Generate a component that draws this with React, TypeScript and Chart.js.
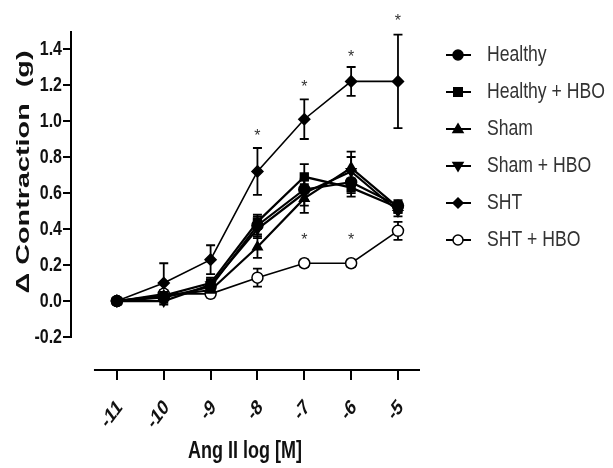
import React, { useEffect, useRef } from "react";
import { Chart, registerables } from "chart.js";

Chart.register(...registerables);

const xValues = [-11, -10, -9, -8, -7, -6, -5];
const xTickLabels = ["-11", "-10", "-9", "-8", "-7", "-6", "-5"];
const yTickValues = [-0.2, 0, 0.2, 0.4, 0.6, 0.8, 1.0, 1.2, 1.4];
const yTickLabels = ["-0.2", "0.0", "0.2", "0.4", "0.6", "0.8", "1.0", "1.2", "1.4"];

const seriesNames = ["Healthy", "Healthy + HBO", "Sham", "Sham + HBO", "SHT", "SHT + HBO"];

const healthy = [0, 0.02, 0.08, 0.42, 0.62, 0.66, 0.53];
const healthyHbo = [0, 0.03, 0.1, 0.44, 0.69, 0.63, 0.52];
const sham = [0, 0.03, 0.06, 0.3, 0.57, 0.74, 0.52];
const shamHbo = [0, 0.0, 0.09, 0.4, 0.6, 0.72, 0.5];
const sht = [0, 0.1, 0.23, 0.72, 1.01, 1.22, 1.22];
const shtHbo = [0, 0.04, 0.04, 0.13, 0.21, 0.21, 0.39];

const healthyErr = [0, 0.02, 0.03, 0.05, 0.06, 0.06, 0.03];
const healthyHboErr = [0, 0.02, 0.03, 0.04, 0.07, 0.05, 0.03];
const shamErr = [0, 0.02, 0.03, 0.06, 0.08, 0.09, 0.03];
const shamHboErr = [0, 0.02, 0.03, 0.05, 0.07, 0.08, 0.03];
const shtErr = [0, 0.11, 0.08, 0.13, 0.11, 0.08, 0.26];
const shtHboErr = [0, 0.02, 0.02, 0.05, 0.02, 0.02, 0.05];

// significance marks (value position of the "*")
const shtStars = [null, null, null, 0.93, 1.2, 1.37, 1.57];
const shtHboStars = [null, null, null, null, 0.35, 0.35, null];

const FONT = "'Liberation Sans', Arial, sans-serif";

type Marker = { style: string; rotation: number; fill: string };
const markers: Marker[] = [
  { style: "circle", rotation: 0, fill: "#000" },
  { style: "rect", rotation: 0, fill: "#000" },
  { style: "triangle", rotation: 0, fill: "#000" },
  { style: "triangle", rotation: 180, fill: "#000" },
  { style: "rectRot", rotation: 0, fill: "#000" },
  { style: "circle", rotation: 0, fill: "#fff" },
];

const values = [healthy, healthyHbo, sham, shamHbo, sht, shtHbo];
const errors = [healthyErr, healthyHboErr, shamErr, shamHboErr, shtErr, shtHboErr];
const stars = [null, null, null, null, shtStars, shtHboStars];

function drawMarker(ctx: CanvasRenderingContext2D, m: Marker, x: number, y: number, r: number) {
  ctx.save();
  ctx.fillStyle = m.fill;
  ctx.strokeStyle = "#000";
  ctx.lineWidth = 1.5;
  ctx.beginPath();
  if (m.style === "circle") {
    ctx.arc(x, y, r, 0, Math.PI * 2);
  } else if (m.style === "rect") {
    ctx.rect(x - r * 0.85, y - r * 0.85, r * 1.7, r * 1.7);
  } else if (m.style === "triangle") {
    const s = m.rotation === 180 ? -1 : 1;
    ctx.moveTo(x, y - s * r);
    ctx.lineTo(x + r, y + s * r * 0.7);
    ctx.lineTo(x - r, y + s * r * 0.7);
    ctx.closePath();
  } else if (m.style === "rectRot") {
    ctx.moveTo(x, y - r);
    ctx.lineTo(x + r, y);
    ctx.lineTo(x, y + r);
    ctx.lineTo(x - r, y);
    ctx.closePath();
  }
  ctx.fill();
  ctx.stroke();
  ctx.restore();
}

function drawText(
  ctx: CanvasRenderingContext2D,
  text: string,
  x: number,
  y: number,
  font: string,
  align: CanvasTextAlign,
  k: number,
  rot: number,
  color: string
) {
  ctx.save();
  ctx.translate(x, y);
  ctx.scale(1, k);
  if (rot) ctx.rotate(rot);
  ctx.font = font;
  ctx.textAlign = align;
  ctx.textBaseline = "middle";
  ctx.fillStyle = color;
  ctx.fillText(text, 0, 0);
  ctx.restore();
}

const extras = {
  id: "extras",
  beforeDatasetsDraw(chart: any) {
    const { ctx, scales } = chart;
    const xs = scales.x;
    const ys = scales.y;
    ctx.save();
    ctx.strokeStyle = "#000";
    ctx.lineWidth = 1.8;
    values.forEach((vals, si) => {
      vals.forEach((v, i) => {
        const e = errors[si][i];
        if (!e) return;
        const px = xs.getPixelForValue(xValues[i]);
        const top = ys.getPixelForValue(v + e);
        const bot = ys.getPixelForValue(v - e);
        ctx.beginPath();
        ctx.moveTo(px, top);
        ctx.lineTo(px, bot);
        ctx.moveTo(px - 4.5, top);
        ctx.lineTo(px + 4.5, top);
        ctx.moveTo(px - 4.5, bot);
        ctx.lineTo(px + 4.5, bot);
        ctx.stroke();
      });
    });
    ctx.restore();
  },
  afterDraw(chart: any) {
    const { ctx, scales, chartArea } = chart;
    const xs = scales.x;
    const ys = scales.y;
    ctx.save();
    ctx.strokeStyle = "#000";
    ctx.lineWidth = 2;
    // y axis line
    ctx.beginPath();
    ctx.moveTo(chartArea.left, ys.getPixelForValue(yTickValues[0]) + 1);
    ctx.lineTo(chartArea.left, chartArea.top);
    ctx.stroke();
    // offset x axis line
    ctx.beginPath();
    ctx.moveTo(xs.getPixelForValue(-11.49), chartArea.bottom);
    ctx.lineTo(chartArea.right, chartArea.bottom);
    ctx.stroke();

    // y tick labels
    yTickValues.forEach((v, i) => {
      drawText(ctx, yTickLabels[i], chartArea.left - 9, ys.getPixelForValue(v), `bold 16px ${FONT}`, "right", 1.25, 0, "#111");
    });
    // x tick labels
    xValues.forEach((v, i) => {
      drawText(ctx, xTickLabels[i], xs.getPixelForValue(v) + 3, chartArea.bottom + 34, `bold 16px ${FONT}`, "right", 1.35, -Math.PI / 4, "#111");
    });

    // stars
    stars.forEach((arr) => {
      if (!arr) return;
      arr.forEach((s, i) => {
        if (s === null) return;
        drawText(ctx, "*", xs.getPixelForValue(xValues[i]), ys.getPixelForValue(s) + 3, `16px ${FONT}`, "center", 1, 0, "#333");
      });
    });

    // axis titles
    drawText(ctx, "Ang II log [M]", 245, 452, `bold 18px ${FONT}`, "center", 1.3, 0, "#111");
    drawText(ctx, "\u0394 Contraction  (g)", 24, 172, `bold 18px ${FONT}`, "center", 1.6, -Math.PI / 2, "#111");

    // legend
    seriesNames.forEach((name, i) => {
      const y = 55 + i * 37;
      ctx.strokeStyle = "#000";
      ctx.lineWidth = 2;
      ctx.beginPath();
      ctx.moveTo(446, y);
      ctx.lineTo(471, y);
      ctx.stroke();
      drawMarker(ctx, markers[i], 458, y, 5);
      drawText(ctx, name, 487, y, `17.6px ${FONT}`, "left", 1.25, 0, "#333");
    });
    ctx.restore();
  },
};

export default function App() {
  const ref = useRef<HTMLCanvasElement | null>(null);
  useEffect(() => {
    document.body.style.margin = "0";
    if (!ref.current) return;
    const datasets = values.map((vals, si) => ({
      label: seriesNames[si],
      data: vals.map((v, i) => ({ x: xValues[i], y: v })),
      borderColor: "#000",
      borderWidth: si === 4 || si === 5 ? 1.6 : 2.2,
      pointStyle: markers[si].style,
      rotation: markers[si].rotation,
      pointRadius: si === 5 ? 5.5 : 5.5,
      pointBackgroundColor: markers[si].fill,
      pointBorderColor: "#000",
      pointBorderWidth: 1.5,
      showLine: true,
      tension: 0,
      fill: false,
    }));
    const chart = new Chart(ref.current, {
      type: "scatter",
      data: { datasets },
      options: {
        animation: false,
        responsive: false,
        layout: { padding: { left: 0, right: 193, top: 31, bottom: 0 } },
        plugins: { legend: { display: false }, tooltip: { enabled: false } },
        scales: {
          x: {
            type: "linear",
            min: -11.98,
            max: -4.53,
            afterBuildTicks: (s: any) => {
              s.ticks = xValues.map((v) => ({ value: v }));
            },
            afterFit: (s: any) => {
              s.height = 98;
            },
            ticks: { display: false, autoSkip: false },
            grid: {
              display: true,
              drawOnChartArea: false,
              drawTicks: true,
              tickLength: 10,
              color: "#000",
              lineWidth: 2,
            },
            border: { display: false },
          },
          y: {
            type: "linear",
            min: -0.383,
            max: 1.5,
            afterBuildTicks: (s: any) => {
              s.ticks = yTickValues.map((v) => ({ value: v }));
            },
            afterFit: (s: any) => {
              s.width = 71;
            },
            ticks: { display: false },
            grid: {
              display: true,
              drawOnChartArea: false,
              drawTicks: true,
              tickLength: 8,
              color: "#000",
              lineWidth: 2,
            },
            border: { display: false },
          },
        },
      } as any,
      plugins: [extras],
    });
    return () => chart.destroy();
  }, []);
  return (
    <div style={{ width: 613, height: 468, background: "#fff" }}>
      <canvas ref={ref} width={613} height={468} style={{ display: "block" }} />
    </div>
  );
}
